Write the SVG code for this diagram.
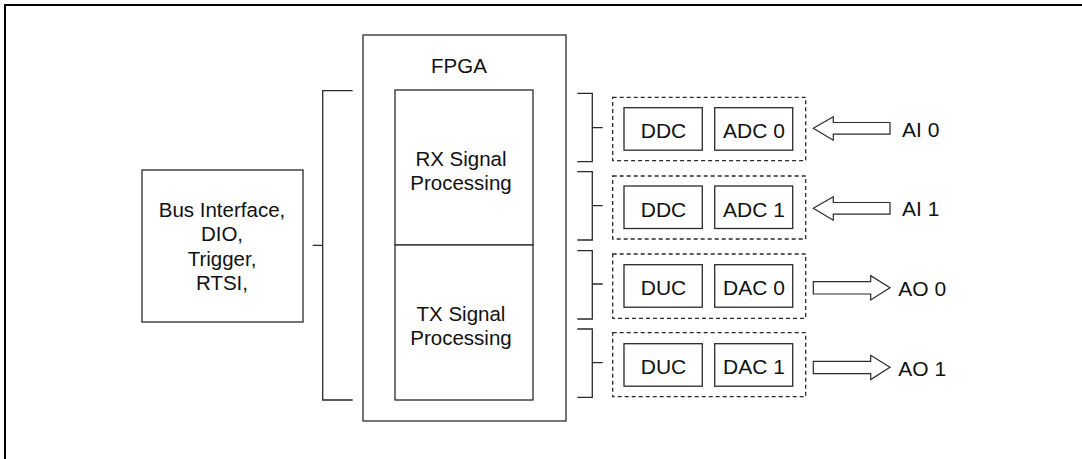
<svg xmlns="http://www.w3.org/2000/svg" width="1082" height="459" viewBox="0 0 1082 459">
<style>
.frame{fill:none;stroke:#000;stroke-width:2}
.box{fill:#fff;stroke:#2a2a2a;stroke-width:1.3}
.dash{fill:none;stroke:#2a2a2a;stroke-width:1.3;stroke-dasharray:4 3}
.ln{fill:none;stroke:#2a2a2a;stroke-width:1.3}
.arr{fill:#fff;stroke:#2a2a2a;stroke-width:1.2;stroke-linejoin:miter}
.t{font-family:"Liberation Sans",Arial,Helvetica,sans-serif;font-size:20.5px;fill:#111;text-anchor:middle}
.r{font-family:"Liberation Sans",Arial,Helvetica,sans-serif;font-size:21px;fill:#111;text-anchor:middle}
.lbl{font-family:"Liberation Sans",Arial,Helvetica,sans-serif;font-size:21px;fill:#111}
</style>
<rect width="1082" height="459" fill="#fff"/>
<path class="frame" d="M5,459 V5 H1082"/>

<g id="bus">
<rect class="box" x="142" y="170" width="161" height="152"/>
<text class="t" x="222" y="216.5">Bus Interface,</text>
<text class="t" x="222" y="241">DIO,</text>
<text class="t" x="222" y="265.5">Trigger,</text>
<text class="t" x="222" y="290">RTSI,</text>
</g>

<g id="fpga">
<rect class="box" x="363" y="35" width="203" height="386"/>
<text class="t" x="459" y="73">FPGA</text>
</g>
<g id="rx">
<rect class="box" x="395" y="90" width="138" height="155"/>
<text class="t" x="461" y="166">RX Signal</text>
<text class="t" x="461" y="189.5">Processing</text>
</g>
<g id="tx">
<rect class="box" x="395" y="245" width="138" height="155"/>
<text class="t" x="461" y="321">TX Signal</text>
<text class="t" x="461" y="344.5">Processing</text>
</g>

<g id="ch0">
<rect class="dash" x="612.7" y="97.3" width="193" height="63.4"/>
<rect class="box" x="624" y="107.7" width="78.3" height="42.5"/>
<text class="r" x="663.5" y="138">DDC</text>
<rect class="box" x="714.7" y="107.7" width="78" height="42.5"/>
<text class="r" x="754" y="138">ADC 0</text>
</g>
<g id="ch1">
<rect class="dash" x="612.7" y="176" width="193" height="63"/>
<rect class="box" x="624" y="186" width="78.3" height="42.5"/>
<text class="r" x="663.5" y="216.5">DDC</text>
<rect class="box" x="714.7" y="186" width="78" height="42.5"/>
<text class="r" x="754" y="216.5">ADC 1</text>
</g>
<g id="ch2">
<rect class="dash" x="612.7" y="254" width="193" height="64.3"/>
<rect class="box" x="624" y="264.7" width="78.3" height="42.5"/>
<text class="r" x="663.5" y="295">DUC</text>
<rect class="box" x="714.7" y="264.7" width="78" height="42.5"/>
<text class="r" x="754" y="295">DAC 0</text>
</g>
<g id="ch3">
<rect class="dash" x="612.7" y="332.7" width="193" height="64"/>
<rect class="box" x="624" y="343.7" width="78.3" height="42.5"/>
<text class="r" x="663.5" y="374">DUC</text>
<rect class="box" x="714.7" y="343.7" width="78" height="42.5"/>
<text class="r" x="754" y="374">DAC 1</text>
</g>

<g id="labels">
<text class="lbl" x="902" y="136.7">AI 0</text>
<text class="lbl" x="902" y="215.7">AI 1</text>
<text class="lbl" x="898.3" y="295.7">AO 0</text>
<text class="lbl" x="898.3" y="375.7">AO 1</text>
</g>

<g id="connectors">
<path class="ln" d="M352.7,90.7 H322.7 V400 H352.7 M312.7,245.3 H322.7"/>
<path class="ln" d="M577.3,93.3 H592.3 V161.7 H577.3 M592.3,127.7 H602.7"/>
<path class="ln" d="M577.3,171.7 H592.3 V240 H577.3 M592.3,205.7 H602.7"/>
<path class="ln" d="M577.3,250.7 H592.3 V319 H577.3 M592.3,284 H602.7"/>
<path class="ln" d="M577.3,329 H592.3 V397.3 H577.3 M592.3,362.7 H602.7"/>
<polygon class="arr" points="813.3,128.3 833.3,116.8 833.3,122.5 890,122.5 890,134.2 833.3,134.2 833.3,140.3"/>
<polygon class="arr" points="813.3,208.3 833.3,196.8 833.3,202.5 890,202.5 890,214.2 833.3,214.2 833.3,220.3"/>
<polygon class="arr" points="813.3,281.7 870.7,281.7 870.7,275.7 890,287.7 870.7,300 870.7,294 813.3,294"/>
<polygon class="arr" points="813.3,361.3 870.7,361.3 870.7,355.3 890,367.3 870.7,379.6 870.7,373.6 813.3,373.6"/>
</g>
</svg>
